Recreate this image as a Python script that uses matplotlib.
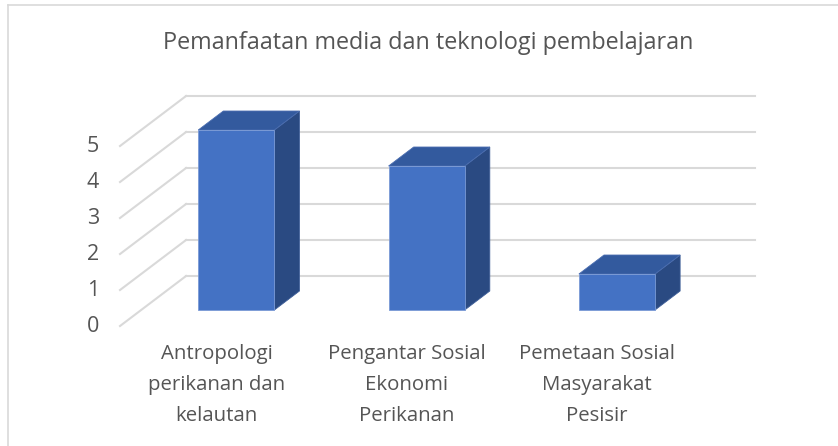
import matplotlib.pyplot as plt
from matplotlib.patches import Polygon
from matplotlib.lines import Line2D

# 1. DATA ---------------------------------------------------------------
TITLE      = "Pemanfaatan media dan teknologi pembelajaran"
categories = ["Antropologi\nperikanan dan\nkelautan",
              "Pengantar Sosial\nEkonomi\nPerikanan",
              "Pemetaan Sosial\nMasyarakat\nPesisir"]
values     = [5, 4, 1]
yticks     = [0, 1, 2, 3, 4, 5]

# 2. STYLE / 3D GEOMETRY ------------------------------------------------
plt.rcParams["font.family"] = ["Open Sans", "DejaVu Sans"]
TEXT_COL  = "#555555"
GRID_COL  = "#d9d9d9"
FRONT_COL = "#4472c4"
TOP_COL   = "#335a9e"
SIDE_COL  = "#2a4a82"
DX, DY    = 0.347, 1.389   # offset of back wall in data units (oblique view)
D0, D1    = 0.32, 0.70     # depth range of the bars
W         = 0.40           # bar width in category units

# 3. PLOT ---------------------------------------------------------------
fig = plt.figure(figsize=(8.38, 4.46), dpi=100)
ax = fig.add_axes([0, 0, 1, 1])
ax.set_xlim(-0.6305, 3.7724)
ax.set_ylim(-3.333, 9.056)
ax.axis("off")

# side wall diagonals + back wall gridlines
for t in yticks:
    ax.plot([0, DX], [t, t + DY], color=GRID_COL, lw=1.5, zorder=1)
    ax.plot([DX, len(values) + DX - 0.01], [t + DY, t + DY],
            color=GRID_COL, lw=1.5, zorder=1)
    ax.text(-0.11, t, str(t), ha="right", va="center",
            fontsize=15.5, color=TEXT_COL)

for i, v in enumerate(values):
    x0 = i + 0.5 - W / 2
    x1 = x0 + W
    fx0, fx1, fy = x0 + D0 * DX, x1 + D0 * DX, D0 * DY
    bx0, bx1, by = x0 + D1 * DX, x1 + D1 * DX, D1 * DY
    front = [(fx0, fy), (fx1, fy), (fx1, v + fy), (fx0, v + fy)]
    top   = [(fx0, v + fy), (fx1, v + fy), (bx1, v + by), (bx0, v + by)]
    side  = [(fx1, fy), (bx1, by), (bx1, v + by), (fx1, v + fy)]
    ax.add_patch(Polygon(side, closed=True, fc=SIDE_COL, ec="#3f5f99", lw=0.6, zorder=3))
    ax.add_patch(Polygon(top, closed=True, fc=TOP_COL, ec="#4a6db0", lw=0.6, zorder=3))
    ax.add_patch(Polygon(front, closed=True, fc=FRONT_COL, ec="#7a9ad6", lw=0.6, zorder=4))
    ax.text(i + 0.507, -0.5, categories[i], ha="center", va="top",
            fontsize=14.7, color=TEXT_COL, linespacing=1.72)

fig.text(0.511, 1 - 43 / 446, TITLE, ha="center", va="center",
         fontsize=16.8, color=TEXT_COL)

# chart border (only top and left edges are in frame)
fig.add_artist(Line2D([8 / 838, 8 / 838], [0, 1 - 5 / 446],
                      transform=fig.transFigure, color=GRID_COL, lw=1.2))
fig.add_artist(Line2D([8 / 838, 1], [1 - 5 / 446, 1 - 5 / 446],
                      transform=fig.transFigure, color=GRID_COL, lw=1.2))

fig.savefig("out.png", dpi=100)
